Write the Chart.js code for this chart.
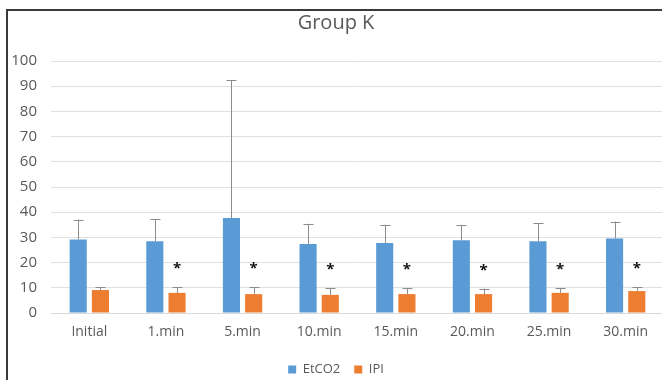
<!DOCTYPE html>
<html>
<head>
<meta charset="utf-8">
<script src="https://cdn.jsdelivr.net/npm/chart.js@4.4.1/dist/chart.umd.min.js"></script>
<style>
  body { margin: 0; background: #fff; overflow: hidden; }
  #frame {
    position: absolute; left: 6px; top: 9px; width: 656px; height: 375px;
    border-left: 2px solid #3a3a3a; border-top: 2px solid #3a3a3a;
  }
  #chart { display: block; }
</style>
</head>
<body>
<div id="frame"><canvas id="chart" width="656" height="375"></canvas></div>
<script>
const categories = ["Initial", "1.min", "5.min", "10.min", "15.min", "20.min", "25.min", "30.min"];
const etco2 = [29.2, 28.5, 37.7, 27.4, 27.8, 28.9, 28.5, 29.6];
const etco2Sd = [7.9, 8.8, 54.6, 8.0, 7.2, 6.1, 7.1, 6.7];
const ipi = [9.1, 8.0, 7.5, 7.2, 7.5, 7.5, 8.0, 8.7];
const ipiSd = [1.2, 2.3, 2.8, 2.7, 2.4, 2.2, 1.9, 1.6];
const stars = ["", "*", "*", "*", "*", "*", "*", "*"];
const yTicks = [0, 10, 20, 30, 40, 50, 60, 70, 80, 90, 100];

const fontFamily = "'Open Sans', sans-serif";

// draws the upper error bars and the significance stars
const errorBars = {
  id: "errorBars",
  afterDatasetsDraw(chart) {
    const ctx = chart.ctx;
    const y = chart.scales.y;
    const sds = [etco2Sd, ipiSd];
    ctx.save();
    ctx.strokeStyle = "#8c8c8c";
    ctx.lineWidth = 1;
    chart.data.datasets.forEach((ds, i) => {
      const meta = chart.getDatasetMeta(i);
      meta.data.forEach((bar, j) => {
        const x = Math.round(bar.x) + 0.5;
        const top = y.getPixelForValue(ds.data[j] + sds[i][j]);
        ctx.beginPath();
        ctx.moveTo(x, bar.y);
        ctx.lineTo(x, top);
        ctx.moveTo(x - 5, Math.round(top) + 0.5);
        ctx.lineTo(x + 5, Math.round(top) + 0.5);
        ctx.stroke();
        if (i === 1 && stars[j]) {
          ctx.fillStyle = "#111";
          ctx.font = "bold 15px " + fontFamily;
          ctx.textAlign = "center";
          ctx.textBaseline = "middle";
          ctx.fillText(stars[j], bar.x, top - 18);
        }
      });
    });
    ctx.restore();
  }
};

new Chart(document.getElementById("chart"), {
  type: "bar",
  data: {
    labels: categories,
    datasets: [
      {
        label: "EtCO2",
        data: etco2,
        backgroundColor: "#5b9bd5",
        categoryPercentage: 0.58,
        barPercentage: 0.77,
      },
      {
        label: "IPI",
        data: ipi,
        backgroundColor: "#ed7d31",
        categoryPercentage: 0.58,
        barPercentage: 0.77,
      },
    ],
  },
  options: {
    responsive: false,
    animation: false,
    layout: { padding: { left: 0, right: 0, top: 0, bottom: 0 } },
    scales: {
      x: {
        grid: { display: false, drawTicks: false },
        border: { color: "#d9d9d9" },
        afterFit: (scale) => {
          scale.height = 36;
        },
        ticks: {
          color: "#595959",
          font: { family: fontFamily, size: 14 },
          padding: 11,
        },
      },
      y: {
        min: 0,
        max: 100,
        afterBuildTicks: (scale) => {
          scale.ticks = yTicks.map((v) => ({ value: v }));
        },
        afterFit: (scale) => {
          scale.width = 43;
        },
        grid: { color: "#e0e0e0", drawTicks: false },
        border: { display: false },
        ticks: {
          color: "#595959",
          font: { family: fontFamily, size: 15 },
          padding: 14,
        },
      },
    },
    plugins: {
      title: {
        display: true,
        text: "Group K",
        color: "#595959",
        font: { family: fontFamily, size: 20, weight: "normal" },
        padding: { top: 0, bottom: 26 },
      },
      legend: {
        position: "bottom",
        labels: {
          color: "#595959",
          font: { family: fontFamily, size: 13 },
          boxWidth: 8,
          boxHeight: 8,
          padding: 14,
        },
      },
      tooltip: { enabled: false },
    },
  },
  plugins: [errorBars],
});
</script>
</body>
</html>
